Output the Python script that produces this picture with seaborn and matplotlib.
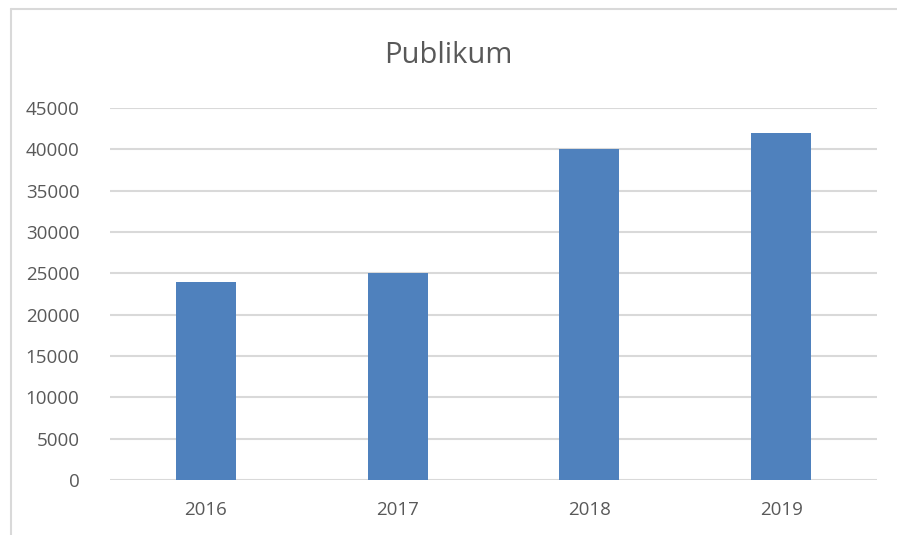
import matplotlib
matplotlib.use("Agg")
import matplotlib.pyplot as plt
from matplotlib.lines import Line2D
import seaborn as sns
import pandas as pd

# chart data
years = ["2016", "2017", "2018", "2019"]
publikum = [24000, 25000, 40000, 42000]
yticks = list(range(0, 45001, 5000))

df = pd.DataFrame({"year": years, "publikum": publikum})

sns.set_style("white")
plt.rcParams["font.family"] = ["Open Sans", "DejaVu Sans"]

fig = plt.figure(figsize=(8.97, 5.35), dpi=100)
ax = fig.add_axes([110 / 897, 1 - 480 / 535, 767 / 897, 372 / 535])

sns.barplot(data=df, x="year", y="publikum", color="#4F81BD", saturation=1,
            width=0.313, linewidth=0, edgecolor="none", ax=ax)

ax.set_ylim(0, 45000)
ax.set_xlim(-0.5, 3.5)
ax.set_yticks(yticks)
ax.set_yticklabels([str(t) for t in yticks])
ax.yaxis.grid(True, color="#D9D9D9", linewidth=1.5)
ax.set_axisbelow(True)
for s in ax.spines.values():
    s.set_visible(False)
ax.tick_params(axis="both", length=0, labelsize=13.5, labelcolor="#595959")
ax.tick_params(axis="y", pad=22)
ax.tick_params(axis="x", pad=15)
ax.set_xlabel("")
ax.set_ylabel("")

fig.text(0.5, 1 - 63 / 535, "Publikum", ha="center", va="baseline",
         fontsize=21, color="#595959")

# chart border (cropped at right and bottom)
fig.add_artist(Line2D([10.5 / 897, 10.5 / 897], [0, 1 - 9 / 535],
                      transform=fig.transFigure, color="#D9D9D9", linewidth=1.5))
fig.add_artist(Line2D([10.5 / 897, 1], [1 - 9 / 535, 1 - 9 / 535],
                      transform=fig.transFigure, color="#D9D9D9", linewidth=1.5))

fig.savefig("out.png", dpi=100)
